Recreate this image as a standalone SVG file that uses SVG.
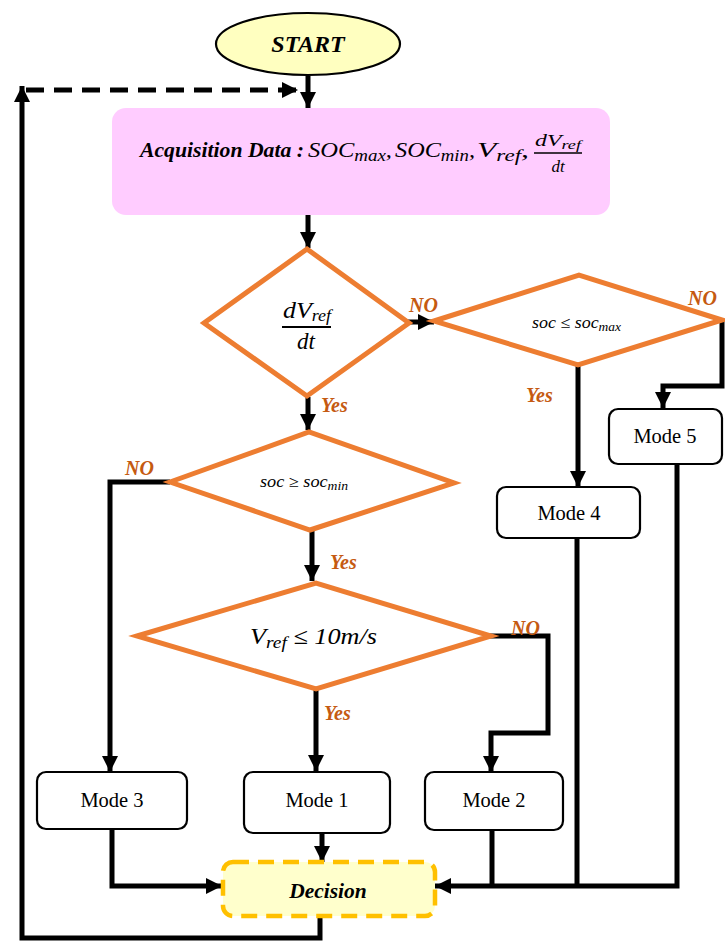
<svg xmlns="http://www.w3.org/2000/svg" width="725" height="941" viewBox="0 0 725 941">
<style>
text{font-family:"Liberation Serif","Times New Roman",Times,"DejaVu Serif",serif}
.dia{fill:#fff;stroke:#ED7D31;stroke-width:5;stroke-linejoin:miter}
.box{fill:#fff;stroke:#000;stroke-width:2.2}
.ln{fill:none;stroke:#000;stroke-width:5}
.mode{font-size:20.5px;fill:#000;text-anchor:middle}
.lab{font-size:20px;font-weight:bold;font-style:italic;fill:#C55A11}
.math{font-style:italic;fill:#000}
</style>
<defs>
<marker id="ah" markerUnits="userSpaceOnUse" markerWidth="16" markerHeight="16" viewBox="0 0 16 16" refX="16" refY="8" orient="auto">
<path d="M0,0 L16,8 L0,16 z" fill="#000"/>
</marker>
</defs>

<g id="connectors">
<path class="ln" d="M308,76 V108" marker-end="url(#ah)"/>
<path class="ln" d="M26,90 H298" stroke-dasharray="18,10" marker-end="url(#ah)"/>
<path class="ln" d="M320,915 V938 H22 V86" marker-end="url(#ah)"/>
<path class="ln" d="M308,215 V248" marker-end="url(#ah)"/>
<path class="ln" d="M408,322 H434" marker-end="url(#ah)"/>
<path class="ln" d="M722,320 V386 H663 V408" marker-end="url(#ah)"/>
<path class="ln" d="M578,365 V487" marker-end="url(#ah)"/>
<path class="ln" d="M308,397 V430" marker-end="url(#ah)"/>
<path class="ln" d="M170,482 H110 V772" marker-end="url(#ah)"/>
<path class="ln" d="M312,530 V581" marker-end="url(#ah)"/>
<path class="ln" d="M489,636 H548 V733 H491 V772" marker-end="url(#ah)"/>
<path class="ln" d="M316,689 V771" marker-end="url(#ah)"/>
<path class="ln" d="M112,829 V886 H222" marker-end="url(#ah)"/>
<path class="ln" d="M322,833 V862" marker-end="url(#ah)"/>
<path class="ln" d="M677,464 V886 H435" marker-end="url(#ah)"/>
<path class="ln" d="M577,538 V886"/>
<path class="ln" d="M492,830 V886"/>
</g>

<g id="start">
<ellipse cx="308" cy="44" rx="92" ry="31" fill="#FFFFC0" stroke="#000" stroke-width="2.2"/>
<text x="308" y="52" text-anchor="middle" font-size="24" font-weight="bold" font-style="italic">START</text>
</g>

<g id="acquisition">
<rect x="112" y="108" width="498" height="107" rx="14" fill="#FFCCFF"/>
<text x="140" y="157" font-size="20" font-weight="bold" font-style="italic" textLength="164" lengthAdjust="spacingAndGlyphs">Acquisition Data :</text>
<text class="math" x="308" y="157" font-size="22" textLength="84" lengthAdjust="spacingAndGlyphs">SOC<tspan font-size="17" dy="4">max</tspan><tspan dy="-4">,</tspan></text>
<text class="math" x="395" y="157" font-size="22" textLength="80" lengthAdjust="spacingAndGlyphs">SOC<tspan font-size="17" dy="4">min</tspan><tspan dy="-4">,</tspan></text>
<text class="math" x="477" y="157" font-size="22" textLength="52" lengthAdjust="spacingAndGlyphs">V<tspan font-size="16" dy="4">ref</tspan><tspan dy="-4">,</tspan></text>
<text class="math" x="535" y="146" font-size="17" textLength="46" lengthAdjust="spacingAndGlyphs">dV<tspan font-size="13" dy="3">ref</tspan></text>
<line x1="534" y1="153" x2="582" y2="153" stroke="#000" stroke-width="1.5"/>
<text class="math" x="558" y="172" font-size="17" text-anchor="middle">dt</text>
</g>

<g id="d1">
<polygon class="dia" points="307,249 409,323 307,396 204,323"/>
<text class="math" x="283" y="318" font-size="23" textLength="48" lengthAdjust="spacingAndGlyphs">dV<tspan font-size="16" dy="3">ref</tspan></text>
<line x1="282" y1="327" x2="331" y2="327" stroke="#000" stroke-width="2"/>
<text class="math" x="306" y="349" font-size="23" text-anchor="middle">dt</text>
</g>

<g id="d2">
<polygon class="dia" points="434,321 579,275 722,320 578,365"/>
<text class="math" x="532" y="328" font-size="16" textLength="89" lengthAdjust="spacingAndGlyphs">soc ≤ soc<tspan font-size="12" dy="3">max</tspan></text>
</g>

<g id="d3">
<polygon class="dia" points="170,482 309,432 454,483 310,530"/>
<text class="math" x="260" y="487" font-size="16" textLength="88" lengthAdjust="spacingAndGlyphs">soc ≥ soc<tspan font-size="12" dy="3">min</tspan></text>
</g>

<g id="d4">
<polygon class="dia" points="137,636 316,583 491,636 316,689"/>
<text class="math" x="250" y="644" font-size="23" textLength="127" lengthAdjust="spacingAndGlyphs">V<tspan font-size="17" dy="4">ref</tspan><tspan dy="-4"> ≤ 10m/s</tspan></text>
</g>

<g id="mode5">
<rect class="box" x="609" y="409" width="113" height="55" rx="9"/>
<text class="mode" x="665" y="443">Mode 5</text>
</g>
<g id="mode4">
<rect class="box" x="497" y="487" width="143" height="51" rx="9"/>
<text class="mode" x="569" y="520">Mode 4</text>
</g>
<g id="mode3">
<rect class="box" x="37" y="772" width="150" height="57" rx="9"/>
<text class="mode" x="112" y="807">Mode 3</text>
</g>
<g id="mode1">
<rect class="box" x="244" y="772" width="146" height="61" rx="9"/>
<text class="mode" x="317" y="807">Mode 1</text>
</g>
<g id="mode2">
<rect class="box" x="425" y="772" width="138" height="58" rx="9"/>
<text class="mode" x="494" y="807">Mode 2</text>
</g>

<g id="decision">
<rect x="223" y="862" width="212" height="54" rx="10" fill="#FFFFCC" stroke="#FFC000" stroke-width="4.5" stroke-dasharray="16,9"/>
<text x="328" y="898" text-anchor="middle" font-size="21.5" font-weight="bold" font-style="italic">Decision</text>
</g>

<g id="labels">
<text class="lab" x="409" y="312">NO</text>
<text class="lab" x="688" y="305">NO</text>
<text class="lab" x="526" y="402">Yes</text>
<text class="lab" x="321" y="412">Yes</text>
<text class="lab" x="125" y="475">NO</text>
<text class="lab" x="330" y="569">Yes</text>
<text class="lab" x="511" y="635">NO</text>
<text class="lab" x="324" y="720">Yes</text>
</g>
</svg>
